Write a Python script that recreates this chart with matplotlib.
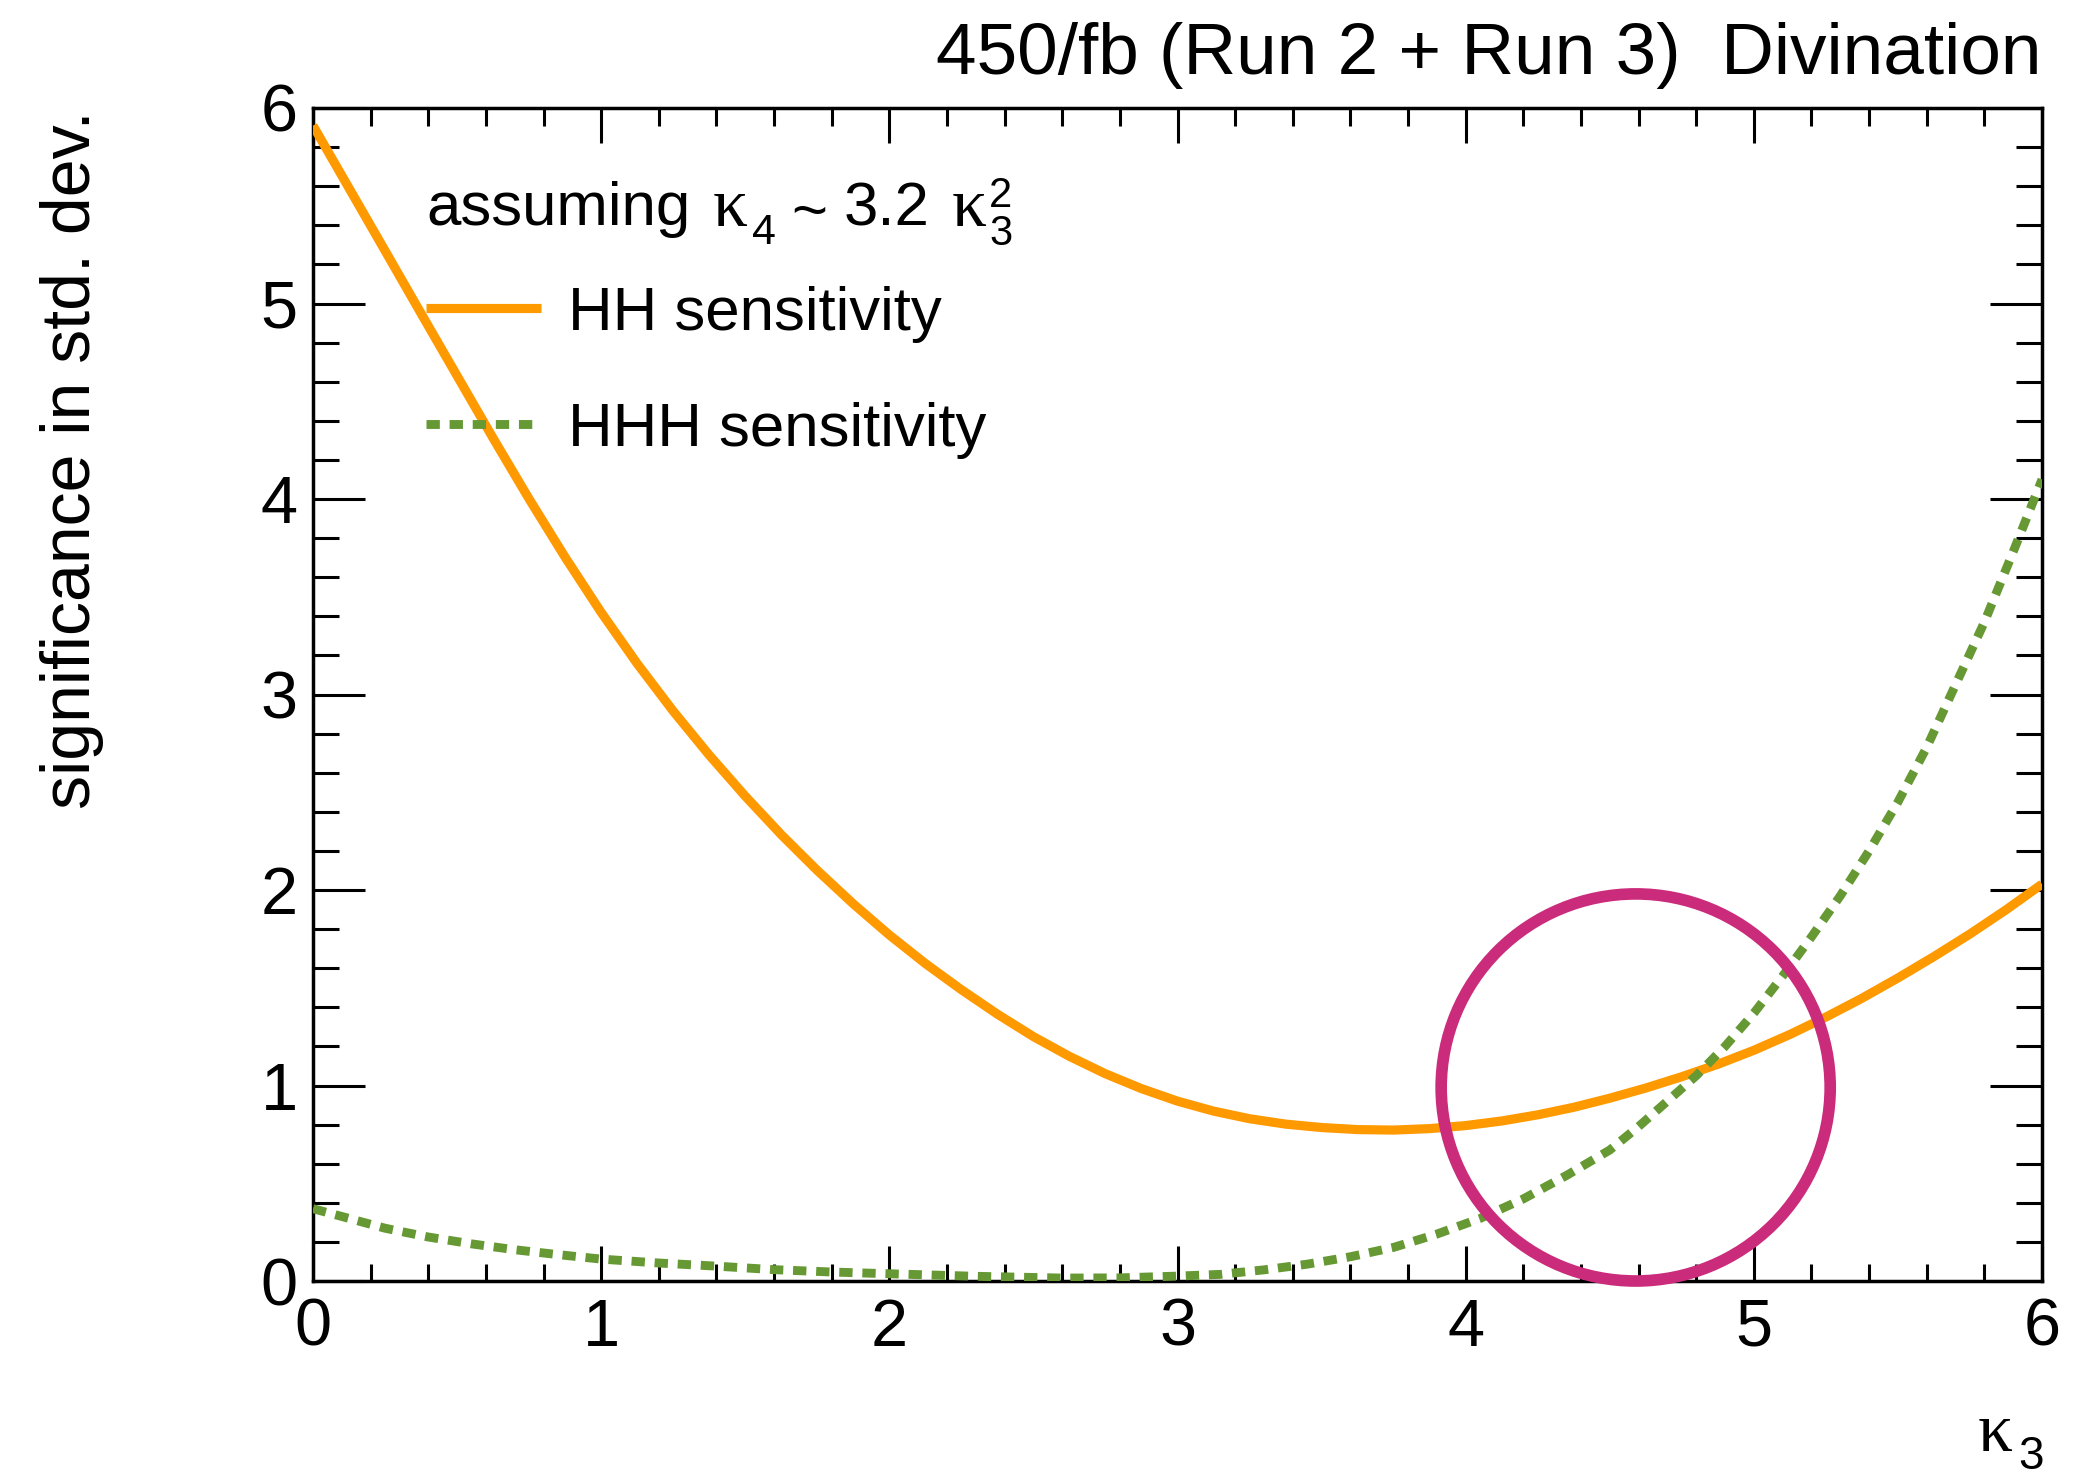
import matplotlib
matplotlib.use("Agg")
import matplotlib.pyplot as plt
from matplotlib.patches import Ellipse
from matplotlib.ticker import MultipleLocator

# HH sensitivity vs kappa_3 (kappa_4 ~ 3.2 kappa_3^2)
kappa3_hh = [0.0, 0.125, 0.25, 0.375, 0.5, 0.625, 0.75, 0.875, 1.0, 1.125, 1.25,
             1.375, 1.5, 1.625, 1.75, 1.875, 2.0, 2.125, 2.25, 2.375, 2.5, 2.625,
             2.75, 2.875, 3.0, 3.125, 3.25, 3.375, 3.5, 3.625, 3.75, 3.875, 4.0,
             4.125, 4.25, 4.375, 4.5, 4.625, 4.75, 4.875, 5.0, 5.125, 5.25, 5.375,
             5.5, 5.625, 5.75, 5.875, 6.0]
sig_hh = [5.91, 5.59, 5.27, 4.949, 4.63, 4.311, 4.00, 3.702, 3.42, 3.158, 2.915,
          2.69, 2.48, 2.283, 2.10, 1.929, 1.77, 1.624, 1.49, 1.365, 1.25, 1.149,
          1.06, 0.984, 0.92, 0.869, 0.83, 0.8025, 0.785, 0.7745, 0.772, 0.7795, 0.795,
          0.8185, 0.85, 0.8885, 0.935, 0.987, 1.045, 1.1085, 1.18, 1.261, 1.35, 1.446,
          1.55, 1.6595, 1.775, 1.8985, 2.03]

# HHH sensitivity vs kappa_3
kappa3_hhh = [0.0, 0.1, 0.25, 0.4, 0.55, 0.7, 0.85, 1.0, 1.2, 1.4, 1.6, 1.8,
              2.0, 2.3, 2.6, 2.8, 3.0, 3.15, 3.3, 3.45, 3.6, 3.75, 3.9, 4.05,
              4.2, 4.35, 4.5, 4.6, 4.7, 4.8, 4.9, 5.0, 5.1, 5.2, 5.3, 5.4,
              5.5, 5.6, 5.7, 5.8, 5.9, 6.0]
sig_hhh = [0.37, 0.33, 0.27, 0.225, 0.19, 0.16, 0.135, 0.112, 0.092, 0.076, 0.058, 0.046,
           0.037, 0.024, 0.015, 0.016, 0.025, 0.034, 0.057, 0.086, 0.124, 0.172, 0.24, 0.32,
           0.42, 0.54, 0.67, 0.79, 0.92, 1.05, 1.20, 1.37, 1.56, 1.76, 1.97, 2.20,
           2.45, 2.73, 3.05, 3.37, 3.73, 4.10]

# highlighted region
ring_center = (4.59, 0.99)
ring_width = 1.35
ring_height = 1.98

header = "450/fb (Run 2 + Run 3)  Divination"
ylabel = "significance in std. dev."

ORANGE = "#FF9900"
GREEN = "#669933"
MAGENTA = "#CB2B7B"

plt.rcParams['font.family'] = ['Liberation Sans', 'DejaVu Sans']
SERIF = ['Liberation Serif', 'DejaVu Serif']

W, H, DPI = 2096, 1476, 100
fig = plt.figure(figsize=(W / DPI, H / DPI), dpi=DPI)


def fx(px):
    return px / W


def fy(py):
    return 1 - py / H


ax = fig.add_axes([fx(313), fy(1281), fx(2042) - fx(313), fy(108) - fy(1281)])

ax.plot(kappa3_hh, sig_hh, color=ORANGE, lw=6.6, solid_capstyle='butt',
        solid_joinstyle='round', label='HH sensitivity', zorder=3)
ax.plot(kappa3_hhh, sig_hhh, color=GREEN, lw=6.4, linestyle=(0, (1.5, 1.1)),
        dash_capstyle='butt', label='HHH sensitivity', zorder=3)

ring = Ellipse(ring_center, ring_width, ring_height, fill=False,
               edgecolor=MAGENTA, lw=8.4, clip_on=False, zorder=5)
ax.add_patch(ring)

ax.set_xlim(0, 6)
ax.set_ylim(0, 6)
ax.xaxis.set_major_locator(MultipleLocator(1))
ax.xaxis.set_minor_locator(MultipleLocator(0.2))
ax.yaxis.set_major_locator(MultipleLocator(1))
ax.yaxis.set_minor_locator(MultipleLocator(0.2))

ax.tick_params(which='both', direction='in', top=True, right=True,
               width=2.2, color='black')
ax.tick_params(axis='x', which='major', length=25, pad=12, labelsize=48)
ax.tick_params(axis='x', which='minor', length=12.6)
ax.tick_params(axis='y', which='major', length=37.4, pad=11, labelsize=48)
ax.tick_params(axis='y', which='minor', length=18.7)
for sp in ax.spines.values():
    sp.set_linewidth(2.5)

# legend entries
ax.legend(loc='upper left', bbox_to_anchor=(fx(426), fy(286)),
          bbox_transform=fig.transFigure, frameon=False, fontsize=44.5,
          borderpad=0, borderaxespad=0, handlelength=1.86,
          handletextpad=0.44, labelspacing=0.95)

# legend header: assuming kappa_4 ~ 3.2 kappa_3^2
base = 225.5
fig.text(fx(426), fy(base), "assuming", fontsize=44.5, va='baseline', ha='left')
fig.text(fx(713), fy(base), "κ", fontsize=50, family=SERIF, va='baseline', ha='left')
fig.text(fx(752), fy(243.5), "4", fontsize=31, va='baseline', ha='left')
fig.text(fx(791), fy(base + 6), "~", fontsize=44.5, va='baseline', ha='left')
fig.text(fx(844), fy(base), "3.2", fontsize=44.5, va='baseline', ha='left')
fig.text(fx(952), fy(base), "κ", fontsize=50, family=SERIF, va='baseline', ha='left')
fig.text(fx(989), fy(207), "2", fontsize=30, va='baseline', ha='left')
fig.text(fx(989), fy(244.7), "3", fontsize=30, va='baseline', ha='left')

# header
fig.text(fx(2042), fy(74), header, fontsize=52.6, ha='right', va='baseline')

# axis titles
fig.text(fx(72.5), fy(110), ylabel, rotation=90, fontsize=49, ha='center', va='top')
fig.text(fx(2013), fy(1451), "κ", fontsize=50, family=SERIF, ha='right', va='baseline')
fig.text(fx(2018), fy(1469), "3", fontsize=33, ha='left', va='baseline')

fig.savefig("out.png", dpi=DPI)
